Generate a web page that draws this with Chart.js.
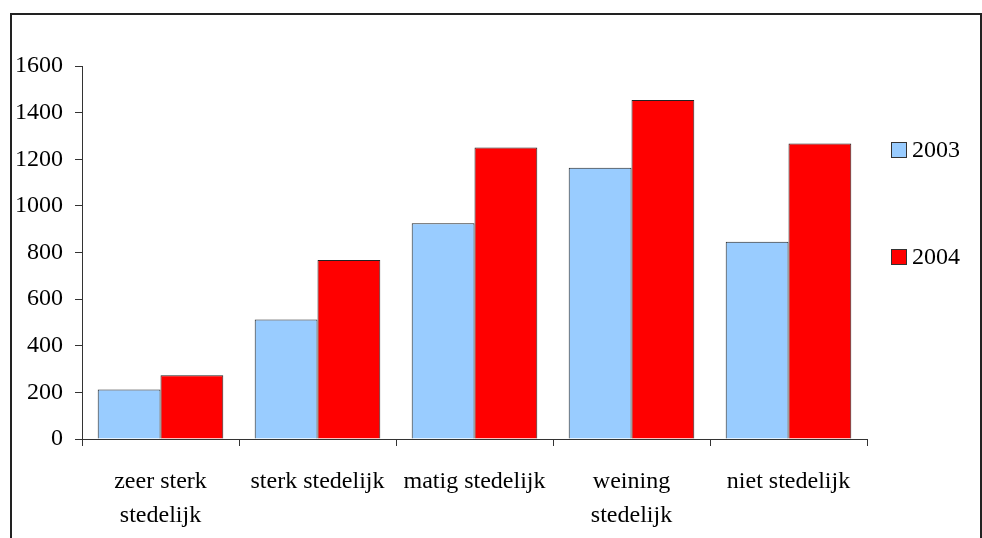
<!DOCTYPE html>
<html>
<head>
<meta charset="utf-8">
<script src="https://cdn.jsdelivr.net/npm/chart.js@4"></script>
<style>
    body { margin: 0; background: #fff; }
    #wrap { position: relative; width: 982px; height: 538px; overflow: hidden; }
    #frame {
        position: absolute; left: 10px; top: 13px; width: 972px; height: 600px;
        border: 2px solid #222; box-sizing: border-box;
    }
    canvas { position: absolute; left: 0; top: 0; }
</style>
</head>
<body>
<div id="wrap">
    <div id="frame"></div>
    <canvas id="barChart" width="982" height="538"></canvas>
</div>
<script>
const categories = [
    ["zeer sterk", "stedelijk"],
    "sterk stedelijk",
    "matig stedelijk",
    ["weining", "stedelijk"],
    "niet stedelijk"
];
const years = ["2003", "2004"];
const values2003 = [212, 513, 925, 1164, 846];
const values2004 = [273, 768, 1250, 1454, 1268];
const yTicks = [0, 200, 400, 600, 800, 1000, 1200, 1400, 1600];

const colors = ["#99ccff", "#ff0000"];
const fontFamily = "'Liberation Serif', 'Times New Roman', serif";

// legend on the right, drawn from the datasets
const sideLegend = {
    id: "sideLegend",
    afterDraw(chart)
    {
        const ctx = chart.ctx;
        const area = chart.chartArea;
        const offsets = [84, 191];
        ctx.save();
        ctx.font = "24px " + fontFamily;
        ctx.textBaseline = "middle";
        chart.data.datasets.forEach((ds, i) => {
            const x = area.right + 24;
            const y = area.top + offsets[i];
            ctx.fillStyle = ds.backgroundColor;
            ctx.fillRect(x, y - 8, 16, 16);
            ctx.strokeStyle = "#333";
            ctx.lineWidth = 1;
            ctx.strokeRect(x + 0.5, y - 7.5, 15, 15);
            ctx.fillStyle = "#000";
            ctx.fillText(ds.label, x + 21, y + 1);
        });
        ctx.restore();
    }
};

const ctx = document.getElementById("barChart").getContext("2d");
const barChart = new Chart(ctx, {
    type: "bar",
    data: {
        labels: categories,
        datasets: [
            {
                label: years[0],
                data: values2003,
                backgroundColor: colors[0],
                borderColor: "#222",
                borderWidth: 1,
                categoryPercentage: 0.8,
                barPercentage: 1.0
            },
            {
                label: years[1],
                data: values2004,
                backgroundColor: colors[1],
                borderColor: "#222",
                borderWidth: 1,
                categoryPercentage: 0.8,
                barPercentage: 1.0
            }
        ]
    },
    options: {
        responsive: false,
        animation: false,
        layout: {
            padding: { left: 15, right: 115, top: 66, bottom: 6 }
        },
        plugins: {
            legend: { display: false },
            tooltip: { enabled: false }
        },
        scales: {
            y: {
                min: 0,
                max: 1600,
                afterBuildTicks: (axis) => {
                    axis.ticks = yTicks.map(v => ({ value: v }));
                },
                afterFit: (axis) => {
                    axis.width = 67;
                },
                grid: {
                    drawOnChartArea: false,
                    tickLength: 7,
                    color: "#333"
                },
                border: { color: "#333", width: 1 },
                ticks: {
                    padding: 12,
                    color: "#000",
                    font: { family: fontFamily, size: 24 },
                    callback: (value) => String(value)
                }
            },
            x: {
                afterFit: (axis) => {
                    axis.height = 93;
                },
                grid: {
                    drawOnChartArea: false,
                    tickLength: 7,
                    color: "#333"
                },
                border: { color: "#333", width: 1 },
                ticks: {
                    padding: 19,
                    maxRotation: 0,
                    color: "#000",
                    font: { family: fontFamily, size: 24, lineHeight: 1.4 }
                }
            }
        }
    },
    plugins: [sideLegend]
});
</script>
</body>
</html>
